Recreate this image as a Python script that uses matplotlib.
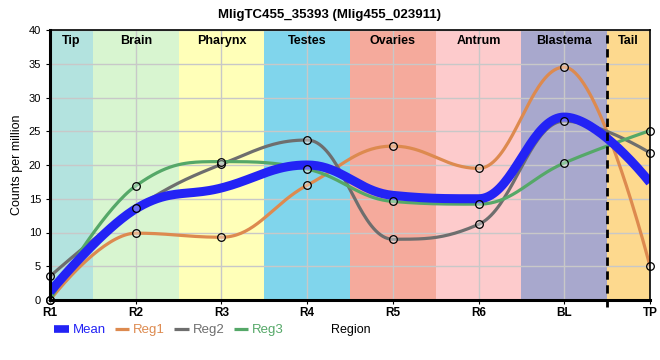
import matplotlib
matplotlib.use("Agg")
import matplotlib.pyplot as plt
from matplotlib.lines import Line2D
import numpy as np

# data
regions = ["R1", "R2", "R3", "R4", "R5", "R6", "BL", "TP"]
mean = [1.2, 13.5, 16.6, 20.0, 15.5, 15.0, 27.1, 17.4]
reg1 = [0.0, 9.9, 9.3, 17.0, 22.8, 19.5, 34.5, 5.0]
reg2 = [3.5, 13.6, 20.1, 23.7, 9.0, 11.2, 26.5, 21.8]
reg3 = [0.0, 16.9, 20.5, 19.4, 14.6, 14.2, 20.3, 25.1]

band_names = ["Tip", "Brain", "Pharynx", "Testes", "Ovaries", "Antrum", "Blastema", "Tail"]
band_colors = ["#b3e3df", "#d8f5d0", "#ffffb8", "#80d5ec", "#f5aa9c",
               "#fdcbcc", "#a8a8cd", "#fdd98e"]

title = "MligTC455_35393 (Mlig455_023911)"


def spline(x, y, n=40):
    # bezier spline, control points like the highcharts "spline" series
    x = np.asarray(x, float)
    y = np.asarray(y, float)
    sm = 1.5
    den = sm + 1
    m = len(x)
    lcx, lcy = x.copy(), y.copy()
    rcx, rcy = x.copy(), y.copy()
    for i in range(1, m - 1):
        lx = (sm * x[i] + x[i - 1]) / den
        ly = (sm * y[i] + y[i - 1]) / den
        rx = (sm * x[i] + x[i + 1]) / den
        ry = (sm * y[i] + y[i + 1]) / den
        corr = (ry - ly) * (rx - x[i]) / (rx - lx) + y[i] - ry
        ly += corr
        ry += corr
        if ly > y[i - 1] and ly > y[i]:
            ly = max(y[i - 1], y[i])
            ry = 2 * y[i] - ly
        elif ly < y[i - 1] and ly < y[i]:
            ly = min(y[i - 1], y[i])
            ry = 2 * y[i] - ly
        if ry > y[i + 1] and ry > y[i]:
            ry = max(y[i + 1], y[i])
            ly = 2 * y[i] - ry
        elif ry < y[i + 1] and ry < y[i]:
            ry = min(y[i + 1], y[i])
            ly = 2 * y[i] - ry
        lcx[i], lcy[i], rcx[i], rcy[i] = lx, ly, rx, ry
    xs, ys = [], []
    u = np.linspace(0, 1, n)[:, None]
    for i in range(m - 1):
        p = np.array([[x[i], y[i]], [rcx[i], rcy[i]],
                      [lcx[i + 1], lcy[i + 1]], [x[i + 1], y[i + 1]]])
        b = ((1 - u)**3 * p[0] + 3 * (1 - u)**2 * u * p[1]
             + 3 * (1 - u) * u**2 * p[2] + u**3 * p[3])
        xs.append(b[:, 0])
        ys.append(b[:, 1])
    return np.concatenate(xs), np.concatenate(ys)


plt.rcParams['font.family'] = ['Liberation Sans', 'DejaVu Sans']

fig = plt.figure(figsize=(6.6, 3.6), dpi=100)
ax = fig.add_axes([50 / 660, 60 / 360, 600 / 660, 270 / 360])

xpos = np.arange(len(regions))
ax.set_xlim(0, len(regions) - 1)
ax.set_ylim(0, 40)

# region bands
edges = np.concatenate([[0], xpos[:-1] + 0.5, [len(regions) - 1]])
for i, (name, col) in enumerate(zip(band_names, band_colors)):
    ax.axvspan(edges[i], edges[i + 1], color=col, lw=0, zorder=0)
    ax.text((edges[i] + edges[i + 1]) / 2, 39.3, name, ha="center", va="top",
            fontsize=9, fontweight="bold", zorder=5)

ax.set_yticks(np.arange(0, 41, 5))
ax.set_xticks(xpos)
ax.set_xticklabels(regions, fontweight="bold", fontsize=8.5)
ax.tick_params(axis="y", labelsize=8, length=3)
ax.tick_params(axis="x", length=3, pad=2)
ax.grid(True, color="#c8c8c8", lw=1, zorder=1)
ax.set_axisbelow(False)

colors = {"Reg1": "#dd8a4f", "Reg2": "#6e6e6e", "Reg3": "#55a868"}
for name, vals in [("Reg1", reg1), ("Reg2", reg2), ("Reg3", reg3)]:
    xs, ys = spline(xpos, vals)
    ax.plot(xs, ys, color=colors[name], lw=2.3, zorder=3, solid_capstyle="butt")

xs, ys = spline(xpos, mean)
ax.plot(xs, ys, color="#2323f5", lw=6.5, zorder=4, solid_capstyle="butt")

for vals in [reg1, reg2, reg3]:
    ax.plot(xpos, vals, ls="none", marker="o", ms=5.5, mfc=(1, 1, 1, 0.35),
            mec="black", mew=0.9, zorder=6, clip_on=False)

ax.axvline(6.5, ymin=-0.025, ymax=1, color="black", lw=2, ls=(0, (3, 2)),
           zorder=5, clip_on=False)

for side in ["left", "bottom"]:
    ax.spines[side].set_linewidth(2.2)
for side in ["top", "right"]:
    ax.spines[side].set_linewidth(1.2)
for sp in ax.spines.values():
    sp.set_zorder(7)

ax.set_ylabel("Counts per million", fontsize=9, labelpad=4)
fig.text(0.5, 0.975, title, ha="center", va="top", fontsize=9.5, fontweight="bold")

handles = [Line2D([], [], color="#2323f5", lw=5.5, solid_capstyle="butt"),
           Line2D([], [], color=colors["Reg1"], lw=2.3, solid_capstyle="butt"),
           Line2D([], [], color=colors["Reg2"], lw=2.3, solid_capstyle="butt"),
           Line2D([], [], color=colors["Reg3"], lw=2.3, solid_capstyle="butt")]
labels = ["Mean", "Reg1", "Reg2", "Reg3"]
leg = fig.legend(handles, labels, loc="center left", bbox_to_anchor=(54 / 660, 1 - 330 / 360),
                 ncol=4, frameon=False, fontsize=9.5, handlelength=1.1,
                 handletextpad=0.3, columnspacing=0.7, borderpad=0, borderaxespad=0)
for txt, h in zip(leg.get_texts(), handles):
    txt.set_color(h.get_color())
fig.text(331 / 660, 1 - 330 / 360, "Region", ha="left", va="center", fontsize=9)

fig.savefig("out.png", dpi=100)
